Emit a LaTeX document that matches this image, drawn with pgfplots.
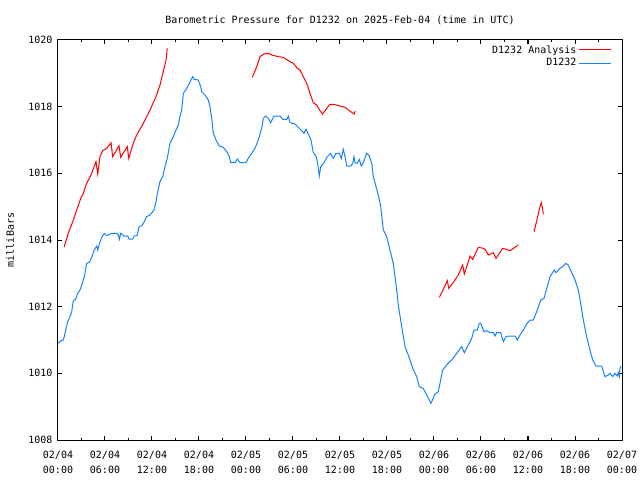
\documentclass[border=0pt]{standalone}
\usepackage{fontspec}
\setmainfont{DejaVu Sans Mono}
\usepackage{pgfplots}
\pgfplotsset{compat=1.18}
\definecolor{ared}{RGB}{255,0,0}
\definecolor{sblue}{RGB}{20,130,255}
\begin{document}
\begin{tikzpicture}
\useasboundingbox (-58pt,-40pt) rectangle (582pt,440pt);
\begin{axis}[
  width=564pt, height=400pt, scale only axis,
  xmin=0, xmax=72, ymin=1008, ymax=1020,
  xtick={0,6,...,72},
  xticklabels={{02/04\\00:00},{02/04\\06:00},{02/04\\12:00},{02/04\\18:00},{02/05\\00:00},{02/05\\06:00},{02/05\\12:00},{02/05\\18:00},{02/06\\00:00},{02/06\\06:00},{02/06\\12:00},{02/06\\18:00},{02/07\\00:00}},
  minor x tick num=1,
  ytick={1008,1010,...,1020},
  tick align=inside,
  major tick length=4pt, minor tick length=2pt,
  axis line style={line width=1pt},
  every tick/.style={black, line width=1pt},
  font=\fontsize{10}{14}\selectfont,
  xticklabel style={align=center, font=\fontsize{10}{15}\selectfont, yshift=-8pt},
  yticklabel style={/pgf/number format/1000 sep={}, /pgf/number format/assume math mode=true, xshift=-2pt},
  title={Barometric Pressure for D1232 on 2025-Feb-04 (time in UTC)},
  title style={at={(axis description cs:0.5,1)}, anchor=center, yshift=14pt},
  ylabel={milliBars},
  ylabel style={at={(axis description cs:-0.085,0.5)}, anchor=center},
  legend plot pos=right,
  legend cell align=right,
  legend style={draw=none, fill=none, at={(0.987,0.997)}, anchor=north east, row sep=0pt, font=\fontsize{10}{14}\selectfont},
  legend image code/.code={\draw[#1] (0pt,0pt) -- (32pt,0pt);},
  unbounded coords=jump,
]
\addplot[ared, line width=1pt] table {
x y
0.77 1013.78
1.31 1014.20
1.88 1014.55
2.39 1014.90
2.90 1015.25
3.23 1015.40
3.66 1015.70
4.00 1015.85
4.30 1016.00
4.85 1016.35
5.07 1015.98
5.36 1016.50
5.71 1016.68
6.22 1016.75
6.77 1016.92
6.98 1016.50
7.79 1016.83
8.00 1016.48
8.85 1016.80
9.03 1016.45
9.61 1016.90
10.05 1017.15
10.89 1017.50
11.74 1017.90
12.51 1018.30
13.02 1018.65
13.44 1019.05
13.79 1019.40
13.95 1019.75
20 nan
24.80 1018.88
25.37 1019.20
25.79 1019.50
26.30 1019.58
26.85 1019.60
27.28 1019.55
28.12 1019.50
28.76 1019.48
29.40 1019.38
30.04 1019.30
30.55 1019.15
30.89 1019.10
31.32 1018.90
31.75 1018.70
32.17 1018.40
32.59 1018.12
33.03 1018.05
33.45 1017.88
33.79 1017.78
34.21 1017.92
34.72 1018.07
35.14 1018.07
36.00 1018.02
36.64 1017.98
37.19 1017.88
37.79 1017.78
37.95 1017.87
44 nan
48.68 1012.28
49.19 1012.52
49.70 1012.78
49.88 1012.55
50.46 1012.72
51.10 1012.95
51.66 1013.25
51.87 1012.98
52.25 1013.25
52.60 1013.52
52.94 1013.42
53.66 1013.78
54.29 1013.75
54.60 1013.70
54.93 1013.55
55.57 1013.62
55.91 1013.45
56.21 1013.55
56.77 1013.75
57.28 1013.72
57.70 1013.68
58.34 1013.78
58.76 1013.85
60 nan
60.77 1014.25
61.19 1014.65
61.53 1015.00
61.70 1015.12
61.88 1014.90
61.95 1014.77
};
\addlegendentry{D1232 Analysis}
\addplot[sblue, line width=1pt] table {
x y
0.04 1010.90
0.38 1010.98
0.68 1011.00
0.80 1011.10
0.98 1011.30
1.24 1011.55
1.53 1011.70
1.75 1011.85
1.95 1012.18
2.26 1012.22
2.51 1012.40
2.81 1012.50
3.03 1012.65
3.36 1012.90
3.66 1013.30
4.00 1013.33
4.30 1013.48
4.63 1013.70
4.94 1013.82
5.07 1013.70
5.27 1013.88
5.58 1014.08
5.91 1014.20
6.22 1014.13
6.86 1014.20
7.49 1014.20
7.70 1014.15
7.83 1014.02
8.00 1014.20
8.43 1014.12
8.90 1014.12
9.06 1014.03
9.54 1014.03
9.74 1014.12
10.09 1014.13
10.34 1014.38
10.76 1014.45
11.02 1014.55
11.32 1014.70
11.74 1014.75
12.26 1014.90
12.51 1015.15
12.68 1015.40
13.02 1015.75
13.37 1015.90
13.66 1016.20
13.95 1016.45
14.30 1016.90
14.72 1017.10
15.06 1017.30
15.36 1017.45
15.57 1017.70
15.79 1017.90
16.00 1018.40
16.43 1018.55
16.76 1018.70
17.20 1018.90
17.40 1018.82
17.91 1018.80
18.22 1018.60
18.34 1018.45
18.77 1018.35
19.19 1018.20
19.40 1018.00
19.62 1017.66
19.83 1017.20
20.17 1017.00
20.59 1016.82
21.10 1016.78
21.54 1016.65
21.87 1016.50
22.05 1016.32
22.60 1016.32
22.89 1016.43
23.23 1016.32
24.00 1016.32
24.29 1016.45
24.73 1016.60
25.15 1016.75
25.57 1017.00
25.70 1017.10
26.00 1017.35
26.21 1017.65
26.55 1017.72
26.85 1017.65
27.15 1017.52
27.57 1017.72
28.34 1017.72
28.69 1017.62
29.20 1017.62
29.40 1017.72
29.62 1017.52
30.26 1017.48
30.68 1017.38
31.11 1017.28
31.40 1017.20
31.66 1017.32
31.95 1017.18
32.30 1017.00
32.59 1016.62
32.94 1016.52
33.15 1016.30
33.36 1015.92
33.54 1016.20
33.96 1016.32
34.38 1016.50
34.81 1016.60
35.14 1016.45
35.49 1016.60
35.91 1016.60
36.17 1016.45
36.42 1016.72
36.64 1016.50
36.86 1016.22
37.37 1016.22
37.62 1016.30
37.79 1016.50
37.91 1016.32
38.21 1016.30
38.46 1016.42
38.72 1016.22
38.97 1016.32
39.41 1016.60
39.74 1016.52
40.05 1016.30
40.25 1015.90
40.60 1015.60
40.94 1015.30
41.20 1015.00
41.53 1014.30
41.96 1014.10
42.38 1013.70
42.80 1013.30
43.24 1012.50
43.44 1012.05
43.88 1011.40
44.30 1010.80
44.72 1010.55
45.36 1010.10
45.79 1009.90
46.12 1009.60
46.63 1009.55
47.07 1009.35
47.62 1009.10
48.13 1009.38
48.55 1009.45
49.11 1010.10
49.62 1010.25
50.26 1010.40
50.90 1010.60
51.54 1010.80
51.87 1010.62
52.38 1010.85
52.81 1011.05
53.11 1011.30
53.53 1011.30
53.78 1011.50
53.96 1011.50
54.38 1011.25
54.73 1011.28
55.15 1011.22
55.57 1011.22
55.79 1011.12
56.00 1011.22
56.51 1011.22
56.85 1010.95
57.19 1011.10
57.49 1011.12
58.34 1011.12
58.64 1011.00
58.98 1011.15
59.40 1011.30
59.83 1011.48
60.26 1011.60
60.68 1011.60
61.19 1011.90
61.62 1012.20
62.04 1012.25
62.46 1012.60
62.81 1012.90
63.36 1013.10
63.57 1013.02
64.09 1013.15
64.51 1013.22
64.81 1013.30
65.14 1013.25
65.58 1013.02
66.00 1012.80
66.42 1012.50
66.73 1012.10
67.06 1011.60
67.49 1011.10
67.91 1010.70
68.26 1010.40
68.68 1010.22
69.41 1010.22
69.83 1009.90
70.25 1009.95
70.47 1010.00
70.81 1009.90
71.11 1010.00
71.40 1009.92
71.53 1010.02
71.66 1009.90
71.74 1010.15
71.87 1010.22
};
\addlegendentry{D1232}
\end{axis}
\end{tikzpicture}
\end{document}
